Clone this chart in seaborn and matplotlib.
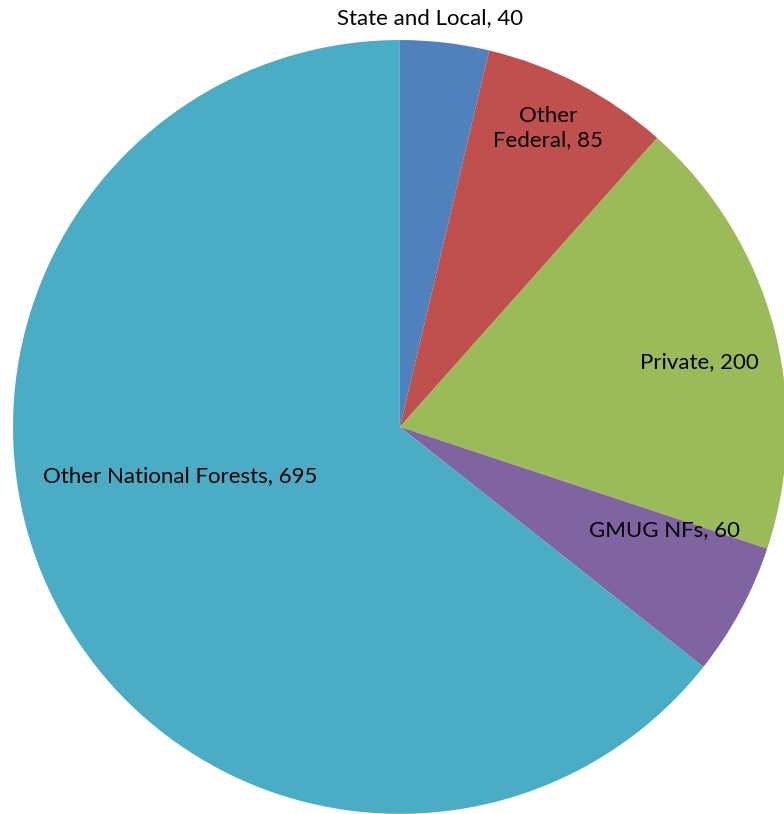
import matplotlib
matplotlib.use("Agg")
import matplotlib.pyplot as plt
import seaborn as sns

# slices, clockwise from 12 o'clock
categories = ["State and Local", "Other Federal", "Private", "GMUG NFs", "Other National Forests"]
acres = [40, 85, 200, 60, 695]
label_text = ["State and Local, 40", "Other\nFederal, 85", "Private, 200", "GMUG NFs, 60",
              "Other National Forests, 695"]
colors = ["#4F81BD", "#C0504D", "#9BBB59", "#8064A2", "#4BACC6"]

sns.set_theme(style="white")
plt.rcParams['font.family'] = ['Lato', 'DejaVu Sans']

fig = plt.figure(figsize=(7.84, 8.14), dpi=100)
ax = fig.add_axes([0.0166, 0.0, 0.987, 0.951])
ax.pie(acres, colors=colors, startangle=90, counterclock=False,
       wedgeprops=dict(linewidth=0))

# label positions in pie units (radius 1)
label_pos = [(0.078, 1.057), (0.382, 0.773), (0.775, 0.168), (0.685, -0.266), (-0.568, -0.127)]
for txt, (x, y) in zip(label_text, label_pos):
    ax.text(x, y, txt, ha="center", va="center", fontsize=16, color="black", linespacing=1.25)

ax.set_xlim(-1, 1)
ax.set_ylim(-1, 1)
ax.set_aspect("equal")
ax.axis("off")
fig.savefig("out.png", dpi=100)
